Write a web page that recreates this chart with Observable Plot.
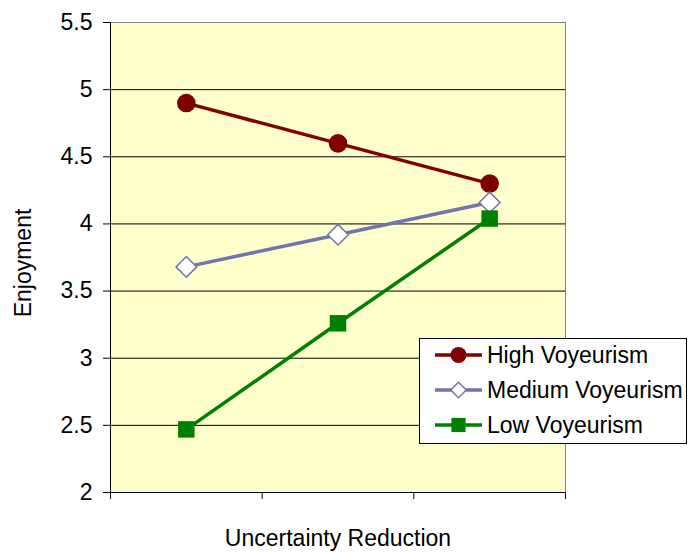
<!DOCTYPE html>
<html>
<head>
<meta charset="utf-8">
<script src="https://cdn.jsdelivr.net/npm/d3@7"></script>
<script src="https://cdn.jsdelivr.net/npm/@observablehq/plot@0.6"></script>
<style>
  html, body { margin: 0; padding: 0; background: #ffffff; }
  #chart { width: 688px; height: 552px; }
</style>
</head>
<body>
<div id="chart"></div>
<script>
// Three unlabeled levels of uncertainty reduction
const levels = [1, 2, 3];
const seriesNames = ["High Voyeurism", "Medium Voyeurism", "Low Voyeurism"];
const highVoyeurism = [4.90, 4.60, 4.30];
const mediumVoyeurism = [3.68, 3.92, 4.16];
const lowVoyeurism = [2.47, 3.26, 4.04];
const yTicks = [2, 2.5, 3, 3.5, 4, 4.5, 5, 5.5];
const gridValues = [2.5, 3, 3.5, 4, 4.5, 5];
const xBoundaries = [0.5, 1.5, 2.5, 3.5];

const seriesColors = ["#800000", "#7373ad", "#008000"];
const seriesSymbols = ["circle", "diamond2", "square"];
const seriesFills = ["#800000", "#ffffff", "#008000"];

const seriesValues = [highVoyeurism, mediumVoyeurism, lowVoyeurism];
const rows = seriesNames.flatMap((name, i) =>
  levels.map((lv, j) => ({ series: name, level: lv, value: seriesValues[i][j] }))
);

const font = "Arial, 'Liberation Sans', sans-serif";
const fontSize = 23;

const lineMarks = seriesNames.map((name, i) =>
  Plot.line(rows.filter(d => d.series === name), {
    x: "level", y: "value", stroke: seriesColors[i], strokeWidth: 3.5
  })
);
const dotMarks = seriesNames.map((name, i) =>
  Plot.dot(rows.filter(d => d.series === name), {
    x: "level", y: "value", symbol: () => seriesSymbols[i],
    r: 9.3, fill: seriesFills[i],
    stroke: i === 1 ? seriesColors[i] : "none", strokeWidth: 1.5
  })
);

const chart = Plot.plot({
  width: 688,
  height: 552,
  marginLeft: 110,
  marginRight: 123,
  marginTop: 22,
  marginBottom: 60,
  x: { domain: [0.5, 3.5], axis: null },
  y: { domain: [2, 5.5], axis: null },
  symbol: { type: "identity" },
  style: { fontFamily: font, background: "#ffffff", color: "#000" },
  marks: [
    Plot.frame({ fill: "#ffffcc", stroke: null }),
    Plot.ruleY(gridValues, { stroke: "#000", strokeWidth: 1 }),
    Plot.ruleY([5.5], { stroke: "#808080", strokeWidth: 1 }),
    Plot.ruleX([3.5], { stroke: "#808080", strokeWidth: 1 }),
    Plot.axisY({
      ticks: yTicks, tickFormat: d => String(d), tickSize: 7, tickPadding: 11,
      fontSize: fontSize, label: null, stroke: "#000"
    }),
    Plot.axisX({
      ticks: xBoundaries, tickFormat: () => "", tickSize: 7, label: null, stroke: "#000"
    }),
    Plot.ruleX([0.5], { stroke: "#000", strokeWidth: 1 }),
    Plot.ruleY([2], { stroke: "#000", strokeWidth: 1 }),
    ...lineMarks,
    ...dotMarks
  ]
});

document.getElementById("chart").appendChild(chart);

const svg = d3.select(chart);

// Axis titles
svg.append("text")
  .attr("transform", "translate(23,263) rotate(-90)")
  .attr("text-anchor", "middle").attr("dy", "0.35em")
  .attr("font-family", font).attr("font-size", fontSize).attr("fill", "#000")
  .text("Enjoyment");
svg.append("text")
  .attr("x", 338).attr("y", 538).attr("dy", "0.35em")
  .attr("text-anchor", "middle")
  .attr("font-family", font).attr("font-size", fontSize).attr("fill", "#000")
  .text("Uncertainty Reduction");

// Legend box overlapping the plot's lower right
const legend = svg.append("g")
  .attr("font-family", font).attr("font-size", fontSize).attr("text-anchor", "start");
legend.append("rect")
  .attr("x", 419.5).attr("y", 338.5).attr("width", 267).attr("height", 105)
  .attr("fill", "#ffffff").attr("stroke", "#000").attr("stroke-width", 1);

const rowY = [355, 390, 425];
seriesNames.forEach((name, i) => {
  const y = rowY[i];
  legend.append("line")
    .attr("x1", 435).attr("x2", 482).attr("y1", y).attr("y2", y)
    .attr("stroke", seriesColors[i]).attr("stroke-width", 3.5);
  const symbolType = i === 0 ? d3.symbolCircle : i === 1 ? d3.symbolDiamond2 : d3.symbolSquare;
  const area = i === 1 ? Math.PI * 7 * 7 : Math.PI * 8 * 8;
  legend.append("path")
    .attr("transform", `translate(458.5,${y})`)
    .attr("d", d3.symbol(symbolType, area)())
    .attr("fill", seriesFills[i])
    .attr("stroke", i === 1 ? seriesColors[i] : "none")
    .attr("stroke-width", 1.5);
  legend.append("text")
    .attr("x", 487).attr("y", y).attr("dy", "0.35em")
    .attr("fill", "#000")
    .text(name);
});
</script>
</body>
</html>
